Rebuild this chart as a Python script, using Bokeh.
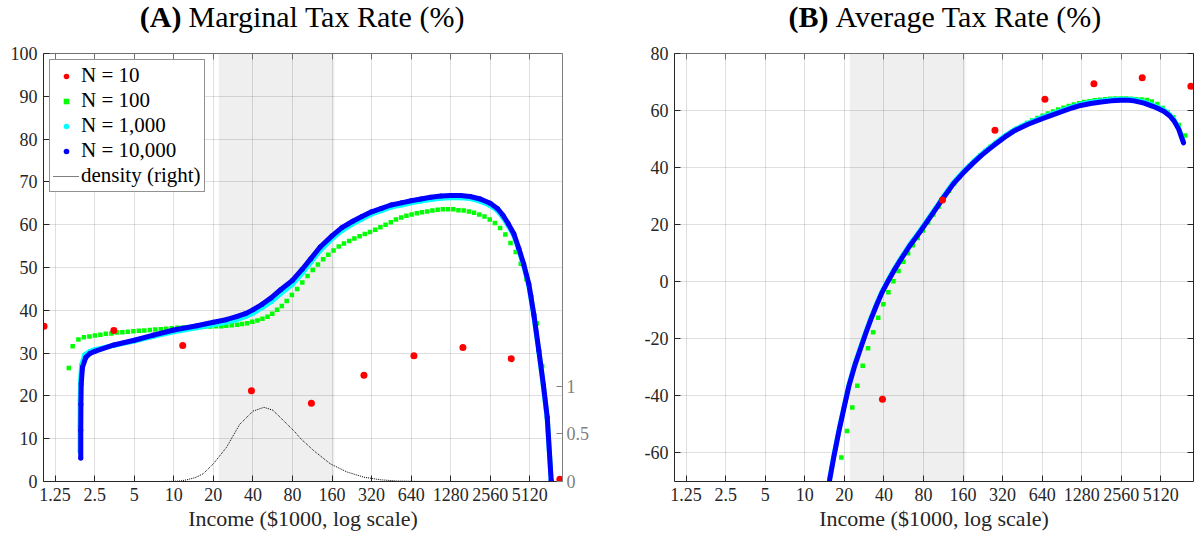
import numpy as np
from bokeh.plotting import figure
from bokeh.models import (Range1d, LinearAxis, FixedTicker, CustomJSTickFormatter,
                          BoxAnnotation, Label, Legend, LegendItem)
from bokeh.layouts import row, column
from bokeh.embed import file_html
from bokeh.resources import INLINE

FONT = "Liberation Serif"
DARK = "#262626"

# ---------------- axes / ticks ----------------
X_TICKS = [1.25, 2.5, 5, 10, 20, 40, 80, 160, 320, 640, 1280, 2560, 5120]
X_MIN, X_MAX = 1.02, 9080
MTR_TICKS = [0, 10, 20, 30, 40, 50, 60, 70, 80, 90, 100]
ATR_TICKS = [-60, -40, -20, 0, 20, 40, 60, 80]
DENS_TICKS = [0, 0.5, 1]
BAND_LO, BAND_HI = 22, 167

# ---------------- N = 10 ----------------
n10_income = [1.03, 3.5, 11.7, 39.0, 111.5, 280, 672, 1586, 3697, 8670]
n10_mtr = [36.3, 35.3, 31.8, 21.2, 18.3, 24.8, 29.4, 31.3, 28.7, 0.5]
n10_atr = [None, None, None, -41.2, 28.7, 53.1, 64.0, 69.4, 71.5, 68.5]

# ---------------- N = 100 ----------------
n100_income = [1.59, 1.70, 1.88, 2.07, 2.279, 2.51, 2.764, 3.043, 3.351, 3.69,
               4.063, 4.474, 4.926, 5.424, 5.972, 6.576, 7.241, 7.973, 8.779, 9.667,
               10.64, 11.72, 12.91, 14.21, 15.65, 17.23, 18.98, 20.97, 23.0, 25.1,
               27.6, 30.3, 33.1, 36.2, 39.6, 43.3, 47.3, 51.7, 56.2, 61.1,
               66.4, 72.3, 79.2, 86.8, 95.1, 104.2, 114.1, 125.0, 136.9, 150.0,
               164.3, 180.0, 197.2, 216.1, 236.7, 259.3, 284.1, 311.2, 340.9, 373.5,
               409.1, 448.2, 491.0, 537.9, 589.3, 645.5, 707.2, 774.7, 848.7, 929.8,
               1018.6, 1115.9, 1222.5, 1339.2, 1467.1, 1607.2, 1760.7, 1928.9, 2113.1, 2314.9,
               2536.0, 2778.2, 3043.5, 3334.2, 3652.6, 4000, 4370, 4820, 5280, 5780,
               6360, 7010, 7840]
n100_mtr = [26.5, 31.6, 33.2, 33.7, 33.9, 34.1, 34.3, 34.5, 34.6, 34.8,
            34.9, 35.0, 35.1, 35.2, 35.3, 35.4, 35.5, 35.6, 35.7, 35.8,
            35.9, 36.0, 36.0, 36.1, 36.1, 36.2, 36.2, 36.3, 36.3, 36.4,
            36.5, 36.6, 36.8, 37.0, 37.3, 37.6, 38.0, 38.5, 39.2, 40.1,
            41.0, 42.2, 43.6, 45.0, 46.5, 48.0, 49.4, 50.7, 51.9, 53.0,
            54.0, 54.9, 55.6, 56.2, 56.8, 57.3, 57.8, 58.3, 58.8, 59.4,
            60.0, 60.6, 61.2, 61.7, 62.1, 62.4, 62.7, 62.9, 63.1, 63.3,
            63.5, 63.6, 63.6, 63.6, 63.4, 63.3, 63.1, 62.8, 62.4, 61.9,
            61.2, 60.4, 59.2, 57.7, 55.7, 53.6, 50.9, 47.3, 43.1, 37.0,
            27.0, 14.0, -3.0]
n100_atr = [None, None, None, None, None, None, None, None, None, None,
            None, None, None, None, None, None, None, None, None, None,
            None, None, None, None, None, -71.0, -61.6, -52.3, -44.1, -36.4,
            -29.4, -23.3, -17.7, -12.6, -7.9, -3.7, 0.2, 3.8, 7.0, 10.0,
            12.8, 15.3, 18.0, 20.8, 23.6, 26.4, 29.2, 31.9, 34.4, 36.7,
            38.8, 40.7, 42.5, 44.2, 45.8, 47.3, 48.7, 50.0, 51.3, 52.5,
            53.6, 54.6, 55.6, 56.5, 57.4, 58.2, 59.0, 59.7, 60.4, 61.0,
            61.6, 62.1, 62.6, 63.0, 63.3, 63.6, 63.8, 64.0, 64.1, 64.2,
            64.2, 64.2, 64.1, 64.0, 63.9, 63.7, 63.2, 62.3, 60.9, 59.4,
            57.7, 54.9, 51.3]

# ---------------- N = 1,000 ----------------
n1000_mtr_income = [1.935, 1.935, 1.94, 1.95, 1.99, 2.1, 2.3, 2.5,
                    3.5, 5, 7, 10, 15, 20, 25, 30, 35, 40,
                    47, 55, 65, 80, 95, 110, 130, 160,
                    190, 230, 270, 320, 380, 450, 540, 640,
                    760, 900, 1080, 1280, 1520, 1800, 2150, 2560,
                    2900, 3200, 3500, 3870, 4220, 4600, 5030, 5500,
                    6000, 6500, 6950, 7450]
n1000_mtr = [7, 13, 19, 23.5, 27.3, 29.6, 30.4, 30.8,
             31.8, 32.8, 33.9, 35.0, 35.9, 36.6, 37.2, 37.8, 38.5, 39.3,
             40.6, 42.0, 43.9, 46.1, 48.7, 51.2, 54.0, 56.7,
             58.6, 60.2, 61.3, 62.5, 63.3, 64.1, 64.6, 65.1,
             65.5, 65.9, 66.2, 66.3, 66.3, 66.1, 65.5, 64.5,
             63.3, 61.7, 59.8, 57.5, 54.1, 50.4, 45.8, 38.6,
             30.2, 22.1, 14.6, 0.0]
n1000_atr_income = [15.2, 15.45, 16.6, 18.2, 19.9, 21.7, 24.0, 26.6, 29.3, 32.2,
                    35.4, 38.8, 43.0, 47.6, 52.5, 57.8, 63.4, 69.5, 76.7, 84.5,
                    93.1, 102.4, 112.4, 135.5, 164, 190, 220, 250, 280, 330,
                    390, 500, 642, 780, 900, 1080, 1258, 1500, 1800, 2150,
                    2536, 2900, 3200, 3819, 4500, 5000, 5427, 6000, 6467, 7000,
                    7625]
n1000_atr = [-72.6, -69.1, -61.2, -51.9, -43.7, -36.0, -29.0, -22.9, -17.3, -12.2,
             -7.5, -3.3, 0.6, 4.2, 7.4, 10.4, 13.2, 15.7, 18.4, 21.2,
             24.0, 26.8, 29.6, 34.8, 39.0, 41.9, 44.6, 46.7, 48.5, 51.0,
             53.2, 55.6, 57.6, 59.0, 60.0, 61.3, 62.2, 62.9, 63.4, 63.8,
             64.0, 64.0, 63.8, 63.0, 61.8, 60.9, 60.1, 58.5, 56.7, 53.9,
             49.1]

# ---------------- N = 10,000 ----------------
n10000_mtr_income = [1.96, 1.96, 1.965, 1.975, 2.02, 2.14, 2.3, 2.5,
                     3.5, 5, 7, 10, 15, 20, 25, 30, 35, 40,
                     47, 55, 65, 80, 95, 110, 130, 160,
                     190, 230, 270, 320, 380, 450, 540, 640,
                     760, 900, 1080, 1280, 1520, 1800, 2150, 2560,
                     2900, 3200, 3500, 3870, 4220, 4600, 5030, 5500,
                     6000, 6500, 6950, 7450]
n10000_mtr = [5.5, 12, 18, 22.8, 26.7, 29.0, 29.9, 30.4,
              31.9, 33.0, 34.2, 35.4, 36.4, 37.2, 37.8, 38.5, 39.2, 40.1,
              41.4, 42.9, 44.8, 47.0, 49.6, 52.0, 54.8, 57.4,
              59.3, 60.8, 61.9, 63.0, 63.8, 64.6, 65.1, 65.6,
              66.0, 66.4, 66.7, 66.8, 66.8, 66.6, 66.0, 65.0,
              63.8, 62.2, 60.3, 57.9, 54.5, 50.8, 46.2, 39.0,
              30.6, 22.5, 15.0, 0.2]
n10000_atr_income = [15.2, 15.45, 16.6, 18.2, 19.9, 21.7, 24.0, 26.6, 29.3, 32.2,
                     35.4, 38.8, 43.0, 47.6, 52.5, 57.8, 63.4, 69.5, 76.7, 84.5,
                     93.1, 102.4, 112.4, 135.5, 164, 190, 220, 250, 280, 330,
                     390, 500, 642, 780, 900, 1080, 1258, 1500, 1800, 2150,
                     2536, 2900, 3200, 3819, 4500, 5000, 5427, 6000, 6467, 7000,
                     7625]
n10000_atr = [-73, -69.5, -61.6, -52.3, -44.1, -36.4, -29.4, -23.3, -17.7, -12.6,
              -7.9, -3.7, 0.2, 3.8, 7.0, 10.0, 12.8, 15.3, 18.0, 20.8,
              23.6, 26.4, 29.2, 34.4, 38.6, 41.5, 44.2, 46.3, 48.1, 50.6,
              52.8, 55.2, 57.2, 58.6, 59.6, 60.9, 61.8, 62.5, 63.0, 63.4,
              63.6, 63.6, 63.4, 62.6, 61.4, 60.5, 59.7, 58.1, 56.3, 53.5,
              48.7]

# ---------------- income density (right axis of panel A) ----------------
dens_income = [8, 10, 11.3, 12.6, 14.5, 16.7, 20, 25.2, 31.7, 40.1, 48.6, 56.7, 65.1, 73.1, 82.4,
               92.5, 116, 155.6, 208, 280, 375, 500, 700, 1000]
dens_value = [0, 0.002, 0.006, 0.018, 0.04, 0.08, 0.185, 0.36, 0.60, 0.74, 0.78, 0.75, 0.67, 0.60,
              0.53, 0.45, 0.325, 0.185, 0.10, 0.045, 0.018, 0.005, 0.001, 0]

W1, W2 = 600, 598
TITLE_H, MAIN_H = 38, 497


def arr(v):
    return np.array([np.nan if a is None else a for a in v], dtype=float)


def style_axis(ax, color=DARK, labels=True, standoff=6):
    ax.axis_line_color = color
    ax.axis_line_width = 1
    ax.major_tick_line_color = color
    ax.major_tick_in = 6
    ax.major_tick_out = 0
    ax.minor_tick_line_color = None
    ax.major_label_text_font = FONT
    ax.major_label_text_color = color
    ax.major_label_standoff = standoff
    if labels:
        ax.major_label_text_font_size = "18px"
        ax.formatter = CustomJSTickFormatter(code="return String(tick);")
    else:
        ax.major_label_text_font_size = "1px"
        ax.formatter = CustomJSTickFormatter(code="return '';")


def base_fig(width, left, right, y_lo, y_hi, y_ticks):
    p = figure(width=width, height=MAIN_H, x_axis_type="log",
               x_range=Range1d(X_MIN, X_MAX), y_range=Range1d(y_lo, y_hi),
               output_backend="svg", toolbar_location=None,
               min_border_left=left, min_border_right=right,
               min_border_top=15, min_border_bottom=54)
    p.outline_line_color = None
    p.background_fill_color = "white"
    xa = p.xaxis[0]
    xa.ticker = FixedTicker(ticks=X_TICKS)
    style_axis(xa, standoff=6)
    xa.axis_label = "Income ($1000, log scale)"
    xa.axis_label_text_font = FONT
    xa.axis_label_text_font_size = "22px"
    xa.axis_label_text_font_style = "normal"
    xa.axis_label_text_color = DARK
    xa.axis_label_standoff = 2
    ya = p.yaxis[0]
    ya.ticker = FixedTicker(ticks=y_ticks)
    style_axis(ya, standoff=6)
    top = LinearAxis(ticker=FixedTicker(ticks=X_TICKS))
    style_axis(top, color="#707070", labels=False, standoff=0)
    p.add_layout(top, "above")
    p.xgrid.ticker = FixedTicker(ticks=X_TICKS)
    p.ygrid.ticker = FixedTicker(ticks=y_ticks)
    for g in (p.xgrid, p.ygrid):
        g.grid_line_color = DARK
        g.grid_line_alpha = 0.15
    p.add_layout(BoxAnnotation(left=BAND_LO, right=BAND_HI, fill_color="#efefef", fill_alpha=1,
                               line_color=None, level="image"))
    return p


def title_fig(width, tag, rest, tag_right):
    t = figure(width=width, height=TITLE_H, x_range=Range1d(0, width), y_range=Range1d(0, TITLE_H),
               output_backend="svg", toolbar_location=None, min_border=0,
               x_axis_location=None, y_axis_location=None)
    t.grid.visible = False
    t.outline_line_color = None
    common = dict(y=22, text_font=FONT, text_font_size="30px", text_color="black",
                  text_baseline="middle")
    t.add_layout(Label(x=tag_right, text=tag, text_align="right", text_font_style="bold", **common))
    t.add_layout(Label(x=tag_right + 7, text=rest, text_align="left", **common))
    return t


# ================= Panel A =================
p1 = base_fig(W1, 43, 38, 0, 100, MTR_TICKS)
p1.extra_y_ranges = {"dens": Range1d(0, 4.5)}
dax = LinearAxis(y_range_name="dens", ticker=FixedTicker(ticks=DENS_TICKS))
style_axis(dax, color="#808080", standoff=4)
p1.add_layout(dax, "right")

r100 = p1.scatter(n100_income, n100_mtr, marker="square", size=4.5,
                  fill_color="#00ff00", line_color=None)
p1.line(n1000_mtr_income, n1000_mtr, line_color="#00ffff", line_width=5,
        line_cap="round", line_join="round")
r1000 = p1.scatter(n1000_mtr_income, n1000_mtr, marker="circle", size=5,
                   fill_color="#00ffff", line_color=None)
p1.line(n10000_mtr_income, n10000_mtr, line_color="#0000ff", line_width=5,
        line_cap="round", line_join="round")
r10000 = p1.scatter(n10000_mtr_income, n10000_mtr, marker="circle", size=5,
                    fill_color="#0000ff", line_color=None)
rd = p1.line(dens_income, dens_value, y_range_name="dens", line_color="black",
             line_width=1, line_dash="1 1")
r10 = p1.scatter(n10_income, n10_mtr, marker="circle", size=7,
                 fill_color="#ff0000", line_color=None)

legend = Legend(items=[LegendItem(label="N = 10", renderers=[r10]),
                       LegendItem(label="N = 100", renderers=[r100]),
                       LegendItem(label="N = 1,000", renderers=[r1000]),
                       LegendItem(label="N = 10,000", renderers=[r10000]),
                       LegendItem(label="density (right)", renderers=[rd])],
                location="top_left", margin=6, padding=3, spacing=0,
                glyph_width=26, glyph_height=14, label_height=21, label_standoff=2,
                label_text_font=FONT, label_text_font_size="21px", label_text_color="black",
                border_line_color=DARK, border_line_width=1,
                background_fill_color="white", background_fill_alpha=1)
p1.add_layout(legend)

# ================= Panel B =================
p2 = base_fig(W2, 74, 5, -70, 80, ATR_TICKS)
rax = LinearAxis(ticker=FixedTicker(ticks=ATR_TICKS))
style_axis(rax, labels=False, standoff=0)
p2.add_layout(rax, "right")

p2.scatter(n100_income, arr(n100_atr), marker="square", size=4.5,
           fill_color="#00ff00", line_color=None)
p2.line(n1000_atr_income, n1000_atr, line_color="#00ffff", line_width=5,
        line_cap="round", line_join="round")
p2.line(n10000_atr_income, n10000_atr, line_color="#0000ff", line_width=5,
        line_cap="round", line_join="round")
p2.scatter(n10_income, arr(n10_atr), marker="circle", size=7,
           fill_color="#ff0000", line_color=None)

tA = title_fig(W1, "(A)", "Marginal Tax Rate (%)", 181)
tB = title_fig(W2, "(B)", "Average Tax Rate (%)", 228)

layout = column(row(tA, tB), row(p1, p2))
open("out.html", "w").write(file_html(layout, INLINE))
